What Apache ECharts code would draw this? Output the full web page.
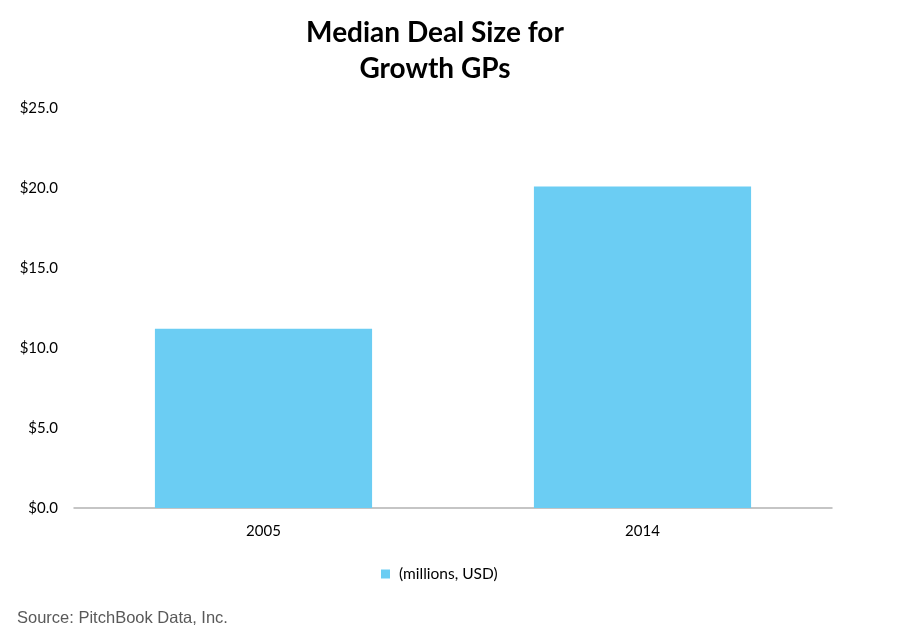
<!DOCTYPE html>
<html><head><meta charset="utf-8">
<script src="https://cdn.jsdelivr.net/npm/echarts@6/dist/echarts.min.js"></script>
<style>html,body{margin:0;padding:0;background:#fff}#c{width:899px;height:641px}</style>
</head><body><div id="c"></div>
<script>
const categories = ['2005', '2014'];
const seriesName = '(millions, USD)';
const values = [11.2, 20.1];
const chart = echarts.init(document.getElementById('c'));
chart.setOption({
  animation: false,
  backgroundColor: '#fff',
  title: {
    text: 'Median Deal Size for\nGrowth GPs',
    left: 430, top: 10, textAlign: 'center',
    textStyle: { fontFamily: 'Lato', fontWeight: 'bold', fontSize: 28, color: '#000', lineHeight: 36 }
  },
  legend: {
    data: [seriesName], top: 561, left: 376,
    itemWidth: 9, itemHeight: 9, icon: 'rect', itemGap: 10,
    textStyle: { fontFamily: 'Lato', fontSize: 15.5, color: '#000', padding: [0, 0, 0, 4] }
  },
  graphic: [{
    type: 'text', left: 17, top: 610,
    style: { text: 'Source: PitchBook Data, Inc.', fontFamily: 'Liberation Sans', fontSize: 16.5, fill: '#595959' }
  }],
  grid: { left: 74, right: 67, top: 108, bottom: 133 },
  xAxis: {
    type: 'category', data: categories,
    axisLine: { lineStyle: { color: '#b3b3b3', width: 1.5 } },
    axisTick: { show: false },
    axisLabel: { fontFamily: 'Lato', fontSize: 15, color: '#000', margin: 16 }
  },
  yAxis: {
    type: 'value', min: 0, max: 25, interval: 5,
    axisLine: { show: false }, axisTick: { show: false },
    splitLine: { show: false },
    axisLabel: { fontFamily: 'Lato', fontSize: 15, color: '#000', margin: 16,
      formatter: v => '$' + v.toFixed(1) }
  },
  series: [{
    name: seriesName, type: 'bar', data: values, barWidth: '57.3%',
    itemStyle: { color: '#6bcdf3' }
  }]
});
</script></body></html>
